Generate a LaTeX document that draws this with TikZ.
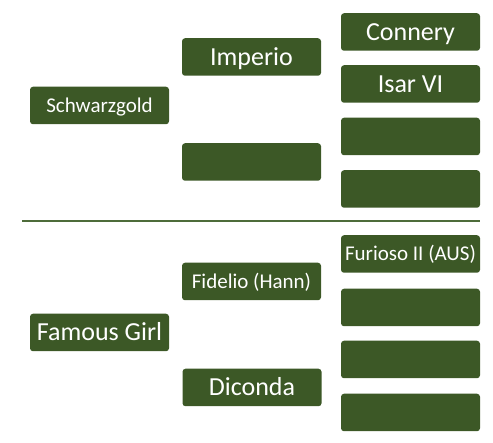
\documentclass[tikz,border=0pt]{standalone}
\usepackage{fontspec}
\setmainfont{Carlito}
\definecolor{boxgreen}{RGB}{60,88,38}
\definecolor{rulegreen}{RGB}{78,108,58}
\tikzset{
  horse/.style={fill=boxgreen, rounded corners=3pt, text=white,
    minimum width=139pt, minimum height=37.5pt, inner sep=0pt,
    text depth=0pt},
  big/.style={horse, font=\fontsize{26}{30}\selectfont, text height=16.7pt},
  small/.style={horse, font=\fontsize{21}{25}\selectfont, text height=13.5pt}
}
\begin{document}
\begin{tikzpicture}[x=1pt, y=-1pt]
    \useasboundingbox (0, 0) rectangle (493, 443);
    % upper pedigree
    \node[small] (sire) at (99.5, 105.5) {Schwarzgold};
    \node[big] (sire1) at (251.5, 57) {Imperio};
    \node[big] (sire2) at (251.5, 162) {};
    \node[big] (sire11) at (410.5, 32) {Connery};
    \node[big] (sire12) at (410.5, 84) {Isar VI};
    \node[big] (sire21) at (410.5, 136.5) {};
    \node[big] (sire22) at (410.5, 189) {};
    % separator
    \coordinate (sepl) at (22, 221);
    \coordinate (sepr) at (480, 221);
    \draw[rulegreen, line width=2pt] (sepl) -- (sepr);
    % lower pedigree
    \node[big] (dam) at (99.5, 332.5) {Famous Girl};
    \node[small] (dam1) at (251.5, 281.5) {Fidelio (Hann)};
    \node[big] (dam2) at (252, 387.5) {Diconda};
    \node[small] (dam11) at (410.5, 254) {Furioso II (AUS)};
    \node[big] (dam12) at (410.5, 307.5) {};
    \node[big] (dam21) at (410.5, 359.5) {};
    \node[big] (dam22) at (410.5, 412.5) {};
  \end{tikzpicture}
\end{document}
